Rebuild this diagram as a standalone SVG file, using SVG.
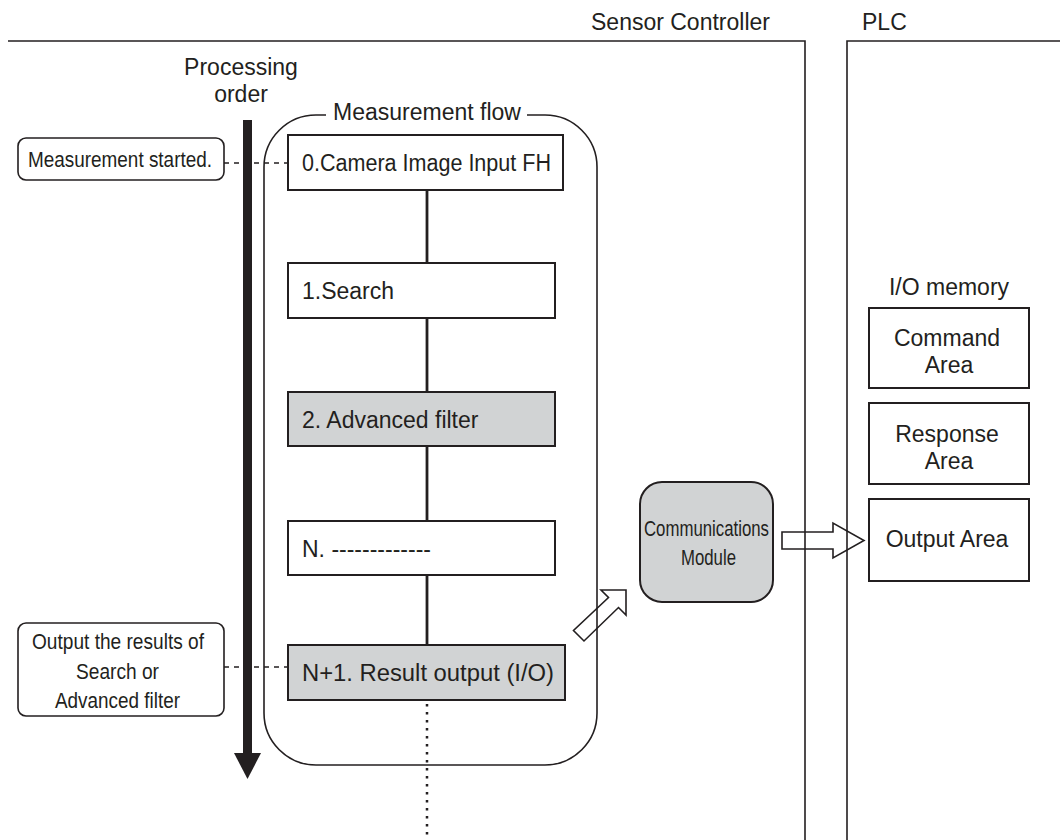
<svg xmlns="http://www.w3.org/2000/svg" width="1060" height="840" viewBox="0 0 1060 840">
<style>
  text { font-family: "Liberation Sans", Arial, sans-serif; fill: #231f20; }
  .t { font-size: 23px; }
  .n { font-size: 22.5px; }
  .box { fill: #ffffff; stroke: #231f20; stroke-width: 2; }
  .gbox { fill: #d1d3d4; stroke: #231f20; stroke-width: 2; }
  .frame { fill: none; stroke: #231f20; stroke-width: 1.6; }
  .call { fill: #ffffff; stroke: #231f20; stroke-width: 1.6; }
  .dash { stroke: #231f20; stroke-width: 1.4; stroke-dasharray: 5 5; fill: none; }
  .link { stroke: #231f20; stroke-width: 2.8; fill: none; }
  .dot { stroke: #231f20; stroke-width: 2.5; stroke-dasharray: 2.5 5.5; fill: none; }
  .barrow { fill: #ffffff; stroke: #231f20; stroke-width: 1.6; stroke-linejoin: miter; }
</style>
<rect width="1060" height="840" fill="#ffffff"/>

<!-- connectors (block arrows drawn beneath frame lines) -->
<g id="connectors">
  <polygon class="barrow" points="626,590 626,615 618.5,607.5 584,641 573.5,630.5 608.5,597.5 601,590"/>
  <polygon class="barrow" points="782,532 833,532 833,523 864,540.5 833,558 833,549 782,549"/>
  <line class="link" x1="427" y1="190" x2="427" y2="263"/>
  <line class="link" x1="427" y1="318" x2="427" y2="392"/>
  <line class="link" x1="427" y1="446" x2="427" y2="521"/>
  <line class="link" x1="427" y1="575" x2="427" y2="645"/>
  <line class="dot" x1="427" y1="704" x2="427" y2="840"/>
  <line class="dash" x1="224" y1="163" x2="288" y2="163"/>
  <line class="dash" x1="224" y1="667" x2="288" y2="667"/>
</g>

<!-- frames -->
<g id="sensor-controller">
  <polyline class="frame" points="8,41 805,41 805,840"/>
  <text class="t" x="591" y="30">Sensor Controller</text>
</g>
<g id="plc">
  <polyline class="frame" points="1060,41 847,41 847,840"/>
  <text class="t" x="862" y="30">PLC</text>
</g>

<!-- processing order arrow -->
<g id="processing-order">
  <text class="t" x="241" y="75" text-anchor="middle">Processing</text>
  <text class="t" x="241" y="102" text-anchor="middle">order</text>
  <rect x="243" y="120" width="9" height="634" fill="#231f20"/>
  <polygon points="234,753 261,753 247.5,779" fill="#231f20"/>
</g>

<!-- measurement flow container -->
<g id="measurement-flow">
  <path class="frame" d="M 527 115 L 545 115 A 52 52 0 0 1 597 167 L 597 713 A 52 52 0 0 1 545 765 L 316 765 A 52 52 0 0 1 264 713 L 264 167 A 52 52 0 0 1 316 115 L 326 115"/>
  <text class="t" x="333" y="120">Measurement flow</text>
</g>

<g id="step0">
  <rect class="box" x="288" y="135" width="275" height="55"/>
  <text class="t" x="302" y="171" textLength="249" lengthAdjust="spacingAndGlyphs">0.Camera Image Input FH</text>
</g>
<g id="step1">
  <rect class="box" x="288" y="263" width="267" height="55"/>
  <text class="t" x="302" y="299">1.Search</text>
</g>
<g id="step2">
  <rect class="gbox" x="288" y="392" width="267" height="54"/>
  <text class="t" x="302" y="428">2. Advanced filter</text>
</g>
<g id="stepN">
  <rect class="box" x="288" y="521" width="267" height="54"/>
  <text class="t" x="302" y="557">N. -------------</text>
</g>
<g id="stepN1">
  <rect class="gbox" x="288" y="645" width="277" height="55"/>
  <text class="t" x="302" y="681" textLength="252" lengthAdjust="spacingAndGlyphs">N+1. Result output (I/O)</text>
</g>

<!-- callouts -->
<g id="callout-start">
  <rect class="call" x="18" y="138" width="206" height="42" rx="8"/>
  <text class="n" x="28" y="167" textLength="184" lengthAdjust="spacingAndGlyphs">Measurement started.</text>
</g>
<g id="callout-output">
  <rect class="call" x="18" y="623" width="206" height="93" rx="8"/>
  <text class="n" x="32" y="649" textLength="172" lengthAdjust="spacingAndGlyphs">Output the results of</text>
  <text class="n" x="76" y="679" textLength="83" lengthAdjust="spacingAndGlyphs">Search or</text>
  <text class="n" x="55" y="708" textLength="125" lengthAdjust="spacingAndGlyphs">Advanced filter</text>
</g>

<!-- communications module -->
<g id="comm-module">
  <rect class="gbox" x="640" y="482" width="133" height="120" rx="22"/>
  <text class="n" x="644" y="536" textLength="125" lengthAdjust="spacingAndGlyphs">Communications</text>
  <text class="n" x="681" y="565" textLength="55" lengthAdjust="spacingAndGlyphs">Module</text>
</g>

<!-- I/O memory -->
<g id="io-memory">
  <text class="t" x="949" y="295" text-anchor="middle">I/O memory</text>
</g>
<g id="command-area">
  <rect class="box" x="869" y="308" width="160" height="80"/>
  <text class="t" x="947" y="346" text-anchor="middle">Command</text>
  <text class="t" x="949" y="373" text-anchor="middle">Area</text>
</g>
<g id="response-area">
  <rect class="box" x="869" y="403" width="160" height="81"/>
  <text class="t" x="947" y="442" text-anchor="middle">Response</text>
  <text class="t" x="949" y="469" text-anchor="middle">Area</text>
</g>
<g id="output-area">
  <rect class="box" x="869" y="499" width="160" height="82"/>
  <text class="t" x="947" y="547" text-anchor="middle">Output Area</text>
</g>
</svg>
